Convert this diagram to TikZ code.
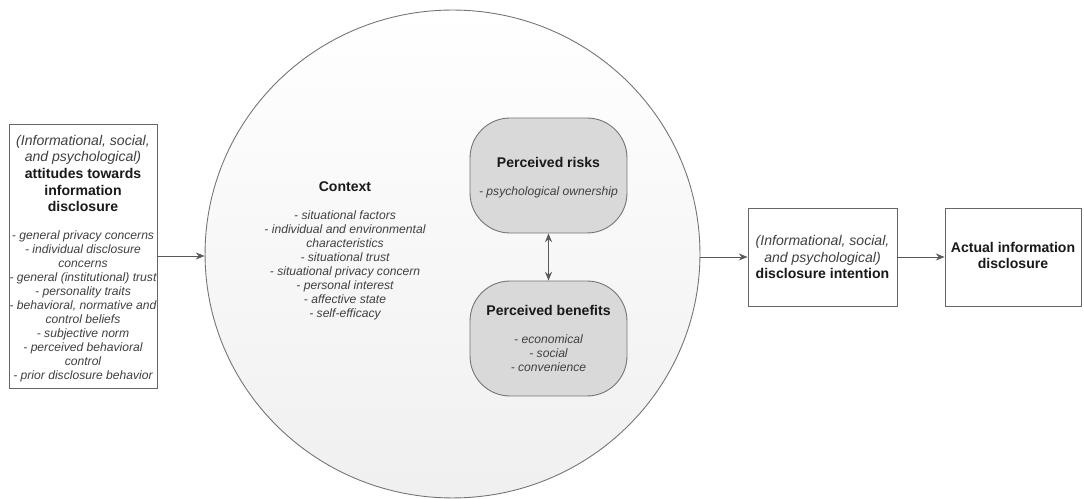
\documentclass[tikz,border=0pt]{standalone}
\usepackage{fontspec}
\setmainfont{Liberation Sans}
\usetikzlibrary{shapes.geometric,arrows.meta}
\tikzset{
    plainbox/.style={draw=black!60, fill=white, line width=0.5pt},
    softbox/.style={draw=black!55, fill=black!15, line width=0.5pt, rounded corners=0.8cm,
        minimum width=3.14cm, minimum height=2.3cm},
    ctxcircle/.style={ellipse, draw=black!55, line width=0.5pt, top color=white, bottom color=black!6,
        minimum width=9.9cm, minimum height=9.76cm},
    link/.style={draw=black!65, line width=0.5pt, -{Stealth[length=5pt,width=4pt]}},
    headtext/.style={align=center, text=black!90, font=\fontsize{8}{9.5}\selectfont\bfseries},
    listtext/.style={align=center, text=black!75, font=\fontsize{6.9}{7.97}\selectfont\itshape},
}

\begin{document}
\begin{tikzpicture}[x=0.02cm, y=-0.02cm]
\useasboundingbox (0,0) rectangle (1084,499);
\node[ctxcircle] (context) at (452.5,254) {};
\node[softbox] (risks) at (548.5,175.5) {};
\node[softbox] (benefits) at (548.5,338.5) {};
\node[plainbox, minimum width=2.96cm, minimum height=5.28cm] (attitudes) at (83,256) {};
\node[plainbox, minimum width=2.98cm, minimum height=1.96cm] (intention) at (822.5,257) {};
\node[plainbox, minimum width=2.72cm, minimum height=1.96cm] (actual) at (1013,257) {};

\node[headtext] (attHead) at (83,173.5) {{\mdseries\itshape\color{black!75}(Informational, social,}\\
    {\mdseries\itshape\color{black!75}and psychological)}\\attitudes towards\\information\\disclosure};
\node[listtext] (attList) at (83,306) {- general privacy concerns\\- individual disclosure\\concerns\\
    - general (institutional) trust\\- personality traits\\- behavioral, normative and\\control beliefs\\
    - subjective norm\\- perceived behavioral\\control\\- prior disclosure behavior};

\node[headtext] (ctxHead) at (345,187) {Context};
\node[listtext] (ctxList) at (345,265.5) {- situational factors\\- individual and environmental\\characteristics\\
    - situational trust\\- situational privacy concern\\- personal interest\\- affective state\\- self-efficacy};

\node[headtext] (riskHead) at (548.5,162) {Perceived risks};
\node[listtext] (riskList) at (548.5,192) {- psychological ownership};
\node[headtext] (benHead) at (548.5,310) {Perceived benefits};
\node[listtext] (benList) at (548.5,353) {- economical\\- social\\- convenience};

\node[headtext] (intText) at (822.5,257) {{\mdseries\itshape\color{black!75}(Informational, social,}\\
    {\mdseries\itshape\color{black!75}and psychological)}\\disclosure intention};
\node[headtext] (actText) at (1013,255.5) {Actual information\\disclosure};

\draw[link] (attitudes.east) -- (attitudes.east -| context.west);
\draw[link] (intention.west -| context.east) -- (intention.west);
\draw[link] (intention) -- (actual);
\draw[link, {Stealth[length=5pt,width=4pt]}-{Stealth[length=5pt,width=4pt]}] (risks) -- (benefits);
\end{tikzpicture}
\end{document}
